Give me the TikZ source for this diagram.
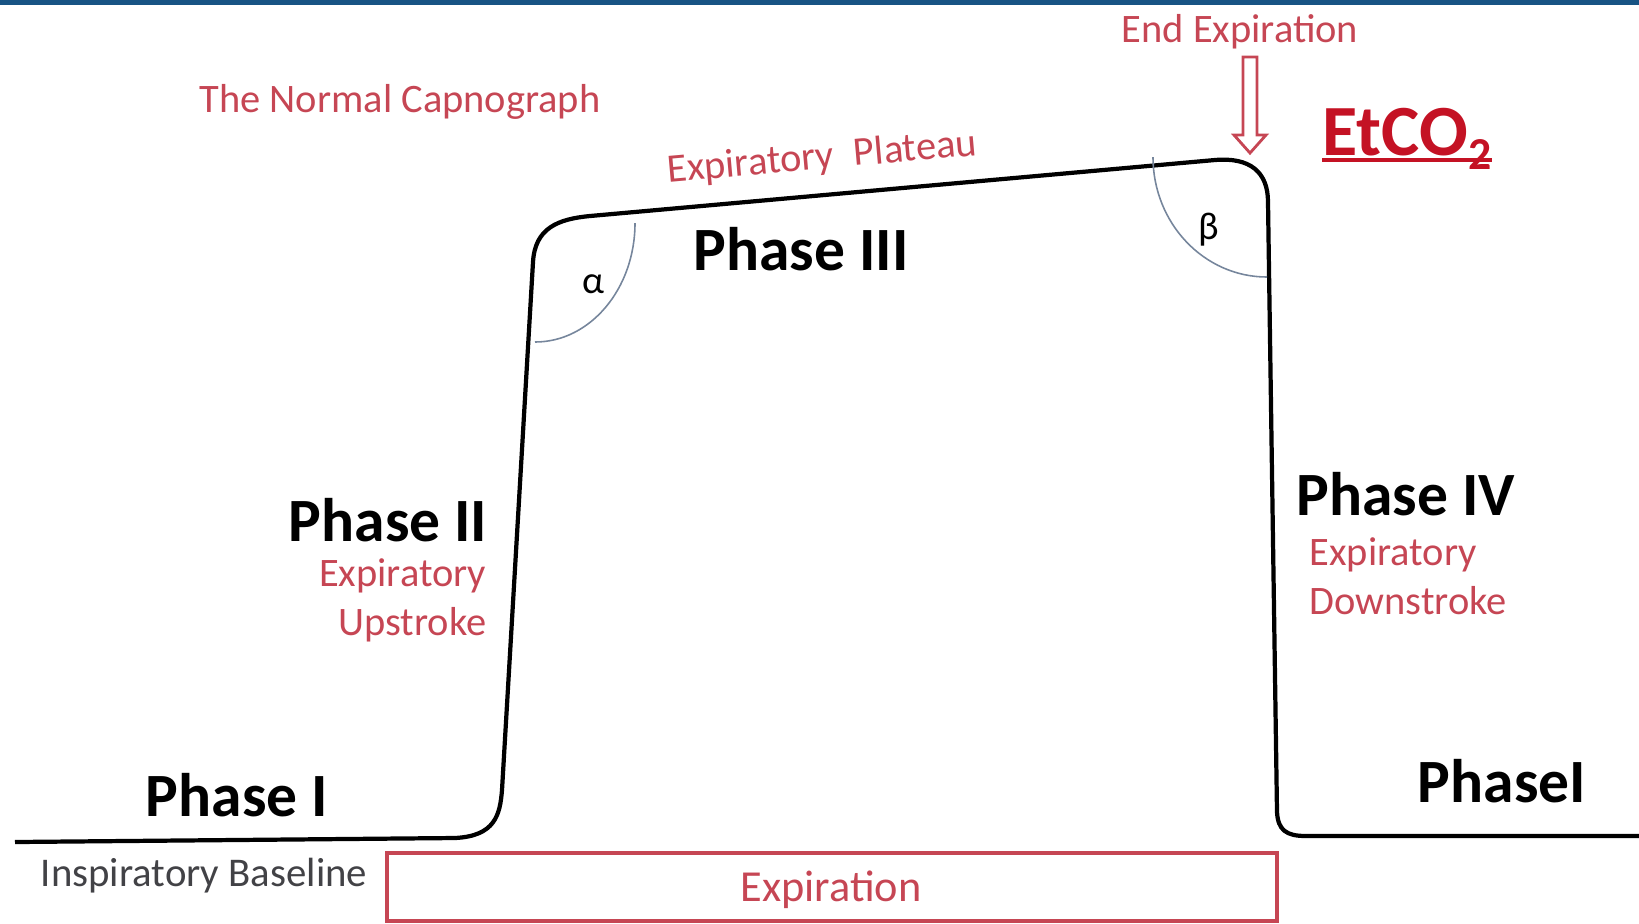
\documentclass[tikz,border=0pt]{standalone}
\usepackage{fontspec}
\setmainfont{Carlito}
\definecolor{labelred}{RGB}{198,70,84}
\definecolor{etred}{RGB}{196,18,36}
\definecolor{arcgray}{RGB}{118,134,156}
\definecolor{topblue}{RGB}{24,84,132}
\definecolor{basegray}{RGB}{66,66,70}

\begin{document}
\begin{tikzpicture}[x=0.01cm,y=-0.01cm,
  phase/.style={font=\fontsize{17.5}{20}\selectfont\bfseries,text=black,inner sep=0pt},
  redlbl/.style={font=\fontsize{11.5}{13}\selectfont,text=labelred,inner sep=0pt},
  anglearc/.style={draw=arcgray,line width=0.45pt},
  wave/.style={line width=1.2pt,line join=round}]
  \useasboundingbox (0,0) rectangle (1639,923);
  \fill[topblue] (0,0) rectangle (1639,5);

  % capnogram trace
  \draw[wave] (15,842) -- (455,838) .. controls (495,836) and (500,815) .. (502,790)
    -- (533,262) .. controls (535,228) and (558,219) .. (590,216)
    -- (1215,160) .. controls (1250,157) and (1268,172) .. (1268,202)
    -- (1277,812) .. controls (1278,830) and (1286,836) .. (1306,836) -- (1639,836);

  % angles
  \draw[anglearc] (535,342) arc[start angle=-90,end angle=0,x radius=100,y radius=-119];
  \draw[anglearc] (1267,277) arc[start angle=-90,end angle=-180,x radius=114,y radius=-120];
  \node[inner sep=0pt,font=\fontsize{11}{13}\selectfont] (alpha) at (593,284) {α};
  \node[inner sep=0pt,font=\fontsize{11}{13}\selectfont] (beta) at (1209,230) {β};

  % phase names
  \node[phase,anchor=base] (ph1) at (237,816) {Phase I};
  \node[phase,anchor=base east] (ph2) at (488,541) {Phase II};
  \node[phase,anchor=base] (ph3) at (801,270) {Phase III};
  \node[phase,anchor=base west] (ph4) at (1296,515) {Phase IV};
  \node[phase,anchor=base] (ph1b) at (1502,802) {PhaseI};

  % red labels
  \node[redlbl,anchor=base] (title) at (400,112) {The Normal Capnograph};
  \node[redlbl,anchor=base east] (up1) at (487,586) {Expiratory};
  \node[redlbl,anchor=base east] (up2) at (487,635) {Upstroke};
  \node[redlbl,anchor=base west] (down1) at (1309,565) {Expiratory};
  \node[redlbl,anchor=base west] (down2) at (1309,614) {Downstroke};
  \node[redlbl,rotate=5] (plateau) at (822,158) {Expiratory\hspace{0.5em}Plateau};
  \node[redlbl,anchor=base] (endexp) at (1240,42) {End Expiration};

  % end-tidal arrow
  \coordinate (tip) at (1250,153);
  \draw[labelred,line width=0.8pt,line join=miter]
    (tip) -- ++(16,-18) -- ++(-9,0) -- ++(0,-78) -- ++(-14,0) -- ++(0,78) -- ++(-9,0) -- cycle;

  % EtCO2
  \node[anchor=base west,inner sep=0pt,text=etred,font=\fontsize{20.5}{24}\selectfont\bfseries]
    (etco) at (1322,155) {EtCO\raisebox{-0.42ex}{\fontsize{13}{15}\selectfont 2}};
  \draw[etred,line width=1.1pt] (1322,160) -- (1492,160);

  % baseline and expiration box
  \node[anchor=base,inner sep=0pt,text=basegray,font=\fontsize{11.6}{13}\selectfont]
    (insp) at (204,886) {Inspiratory Baseline};
  \draw[labelred,line width=0.9pt] (387,853) rectangle (1277,921);
  \node[redlbl,anchor=base,font=\fontsize{12.6}{14}\selectfont] (exp) at (831,901) {Expiration};
\end{tikzpicture}
\end{document}
